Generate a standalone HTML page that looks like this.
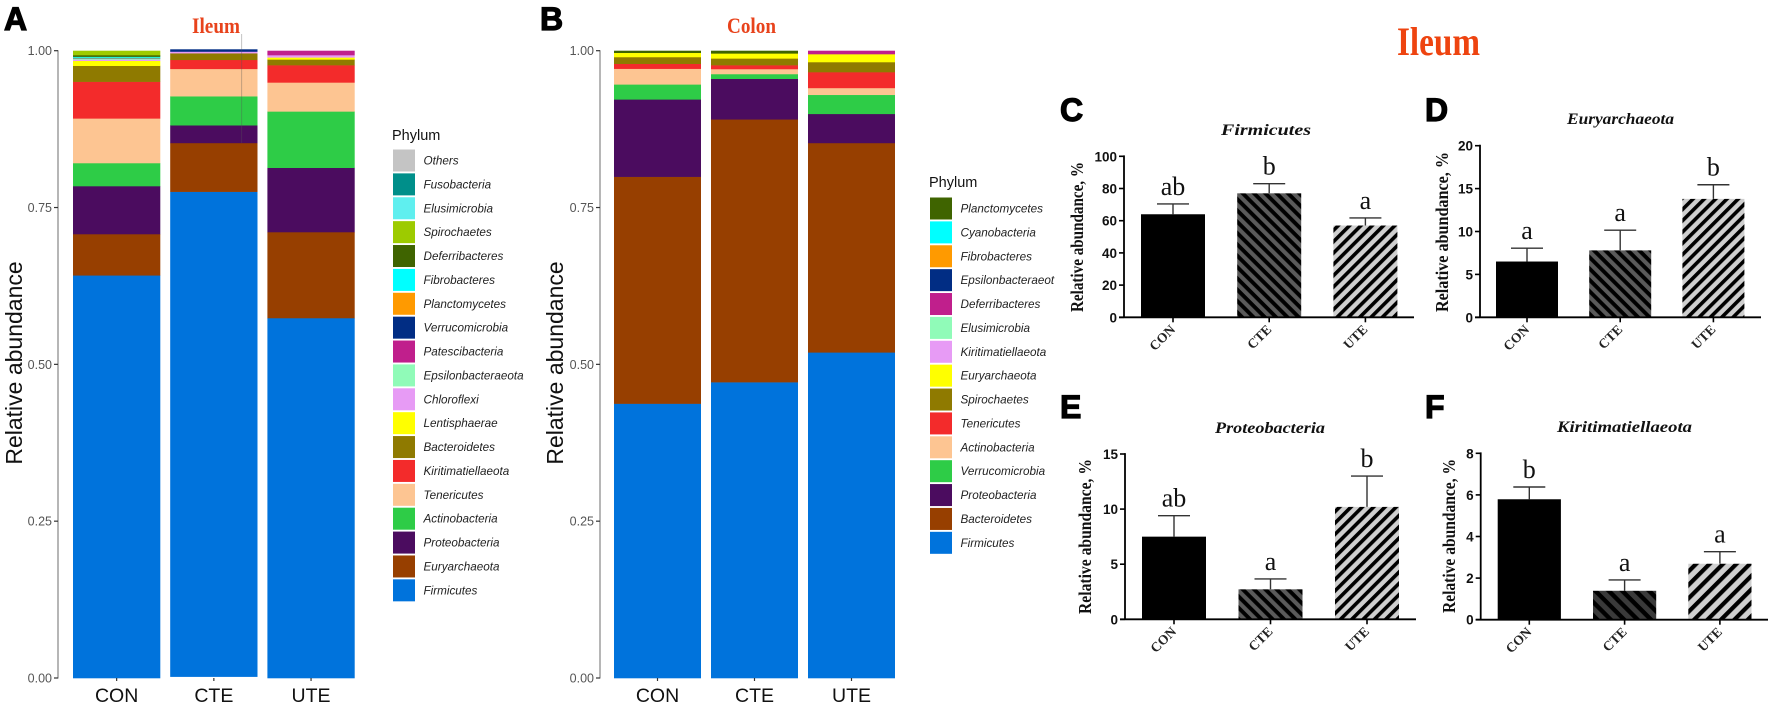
<!DOCTYPE html>
<html lang="en">
<head>
<meta charset="utf-8">
<title>Relative abundance of phyla in ileum and colon</title>
<style>
html,body{margin:0;padding:0;background:#fff;width:1772px;height:709px;overflow:hidden}
svg{display:block}
.sans{font-family:"Liberation Sans",sans-serif}
.serif{font-family:"Liberation Serif",serif}
</style>
</head>
<body>
<svg id="figure" width="1772" height="709" viewBox="0 0 1772 709" xmlns="http://www.w3.org/2000/svg">
  <defs>
    <pattern id="hatch-dark" width="8" height="8" patternUnits="userSpaceOnUse" patternTransform="rotate(45)">
      <rect width="8" height="8" fill="#5a5a5a"/><rect width="8" height="3.9" fill="#000"/>
    </pattern>
    <pattern id="hatch-light" width="8" height="8" patternUnits="userSpaceOnUse" patternTransform="rotate(-45)">
      <rect width="8" height="8" fill="#cfcfcf"/><rect width="8" height="3.6" fill="#000"/>
    </pattern>
    <pattern id="hatch-dark-wide" width="9.5" height="9.5" patternUnits="userSpaceOnUse" patternTransform="rotate(45)">
      <rect width="9.5" height="9.5" fill="#3a3a3a"/><rect width="9.5" height="4.4" fill="#000"/>
    </pattern>
    <pattern id="hatch-light-wide" width="9.5" height="9.5" patternUnits="userSpaceOnUse" patternTransform="rotate(-45)">
      <rect width="9.5" height="9.5" fill="#cfcfcf"/><rect width="9.5" height="4.2" fill="#000"/>
    </pattern>
  </defs>

  <text class="sans" x="4" y="30" font-size="32" font-weight="700" stroke="#000" stroke-width="1.2">A</text>
  <text class="sans" x="540" y="30" font-size="32" font-weight="700" stroke="#000" stroke-width="1.2">B</text>
  <text class="sans" x="1060" y="121" font-size="32" font-weight="700" stroke="#000" stroke-width="1.2">C</text>
  <text class="sans" x="1425" y="121" font-size="32" font-weight="700" stroke="#000" stroke-width="1.2">D</text>
  <text class="sans" x="1060" y="418" font-size="32" font-weight="700" stroke="#000" stroke-width="1.2">E</text>
  <text class="sans" x="1425" y="418" font-size="32" font-weight="700" stroke="#000" stroke-width="1.2">F</text>

  <text class="serif" x="192" y="33" font-size="22" font-weight="700" fill="#e8431c" textLength="48" lengthAdjust="spacingAndGlyphs">Ileum</text>
  <text class="serif" x="727" y="33" font-size="22" font-weight="700" fill="#e8431c" textLength="49" lengthAdjust="spacingAndGlyphs">Colon</text>
  <text class="serif" x="1397" y="55" font-size="40" font-weight="700" fill="#ee4410" textLength="83" lengthAdjust="spacingAndGlyphs">Ileum</text>
</svg>

<script>
const categories = ['CON', 'CTE', 'UTE'];
const stackTicks = ['0.00', '0.25', '0.50', '0.75', '1.00'];
const stackTickValues = [0, 0.25, 0.5, 0.75, 1];

const ileumPhyla = ['Firmicutes', 'Euryarchaeota', 'Proteobacteria', 'Actinobacteria', 'Tenericutes', 'Kiritimatiellaeota', 'Bacteroidetes', 'Lentisphaerae', 'Chloroflexi', 'Epsilonbacteraeota', 'Patescibacteria', 'Verrucomicrobia', 'Planctomycetes', 'Fibrobacteres', 'Deferribacteres', 'Spirochaetes', 'Elusimicrobia', 'Fusobacteria', 'Others'];
const ileumColors = ['#0073dc', '#973f00', '#4b0c5f', '#2ecc47', '#fdc592', '#f32b2b', '#8f7a00', '#ffff00', '#e79bf5', '#90fbb8', '#c01f8c', '#012d84', '#ff9a00', '#00ffff', '#3f6400', '#9dcb00', '#5fefef', '#008f8a', '#c4c4c4'];
const ileumCON = [0.642, 0.0658, 0.0765, 0.0367, 0.0712, 0.0585, 0.0254, 0.008, 0.002, 0.002, 0, 0.0005, 0.0005, 0.0015, 0.0025, 0.0069, 0, 0, 0];
const ileumCTE = [0.7731, 0.0777, 0.0282, 0.0463, 0.0436, 0.0144, 0.0106, 0, 0.0026, 0, 0, 0.0035, 0, 0, 0, 0, 0, 0, 0];
const ileumUTE = [0.5739, 0.1371, 0.1025, 0.0898, 0.0462, 0.0276, 0.0091, 0.0032, 0.0037, 0, 0.0069, 0, 0, 0, 0, 0, 0, 0, 0];

const colonPhyla = ['Firmicutes', 'Bacteroidetes', 'Proteobacteria', 'Verrucomicrobia', 'Actinobacteria', 'Tenericutes', 'Spirochaetes', 'Euryarchaeota', 'Kiritimatiellaeota', 'Elusimicrobia', 'Deferribacteres', 'Epsilonbacteraeot', 'Fibrobacteres', 'Cyanobacteria', 'Planctomycetes'];
const colonColors = ['#0073dc', '#973f00', '#4b0c5f', '#2ecc47', '#fdc592', '#f32b2b', '#8f7a00', '#ffff00', '#e79bf5', '#90fbb8', '#c01f8c', '#012d84', '#ff9a00', '#00ffff', '#3f6400'];
const colonCON = [0.4375, 0.3617, 0.1233, 0.0239, 0.025, 0.0079, 0.0107, 0.0068, 0, 0, 0, 0, 0, 0, 0.0032];
const colonCTE = [0.4717, 0.419, 0.0647, 0.0075, 0.008, 0.0062, 0.0107, 0.008, 0, 0, 0, 0, 0, 0, 0.0042];
const colonUTE = [0.5192, 0.3338, 0.0464, 0.0304, 0.0109, 0.0253, 0.016, 0.0127, 0, 0, 0.0053, 0, 0, 0, 0];

const firmicutesValues = [64, 77, 57];
const firmicutesErrorTops = [70.4, 83, 61.7];
const firmicutesLetters = ['ab', 'b', 'a'];
const firmicutesTicks = [0, 20, 40, 60, 80, 100];

const euryarchaeotaValues = [6.5, 7.8, 13.8];
const euryarchaeotaErrorTops = [8.05, 10.15, 15.45];
const euryarchaeotaLetters = ['a', 'a', 'b'];
const euryarchaeotaTicks = [0, 5, 10, 15, 20];

const proteobacteriaValues = [7.5, 2.72, 10.2];
const proteobacteriaErrorTops = [9.4, 3.66, 13.0];
const proteobacteriaLetters = ['ab', 'a', 'b'];
const proteobacteriaTicks = [0, 5, 10, 15];

const kiritimatiellaeotaValues = [5.79, 1.39, 2.69];
const kiritimatiellaeotaErrorTops = [6.38, 1.91, 3.27];
const kiritimatiellaeotaLetters = ['b', 'a', 'a'];
const kiritimatiellaeotaTicks = [0, 2, 4, 6, 8];

const svg = document.getElementById('figure');
const NS = 'http://www.w3.org/2000/svg';

function make(tag, attrs, parent, text) {
  const node = document.createElementNS(NS, tag);
  for (const key in attrs) node.setAttribute(key, attrs[key]);
  if (text !== undefined) node.textContent = text;
  (parent || svg).appendChild(node);
  return node;
}

function drawStack(cfg) {
  const g = make('g', {});
  
  
  const yScale = v => cfg.y0 - v * (cfg.y0 - cfg.y1);
  const xScale = i => cfg.x0 + i * cfg.pitch;

  cfg.series.forEach((values, i) => {
    const shift = i === cfg.shiftIndex ? cfg.shift : 0;
    let cumulative = 0;
    values.forEach((v, k) => {
      if (v <= 0) return;
      const top = yScale(cumulative + v) + shift;
      const bottom = yScale(cumulative) + shift;
      const seg = make('rect', { x: xScale(i), y: top, width: cfg.barWidth, height: bottom - top + 0.3, fill: cfg.colors[k] }, g);
      
      
      cumulative += v;
    });
    const tick = make('line', { x1: xScale(i) + cfg.barWidth / 2, x2: xScale(i) + cfg.barWidth / 2, y1: cfg.y0, y2: cfg.y0 + 3, stroke: '#333', 'stroke-width': 1.2 }, g);
    
    
    const label = make('text', { x: xScale(i) + cfg.barWidth / 2 + cfg.labelDx, y: cfg.y0 + 24, 'font-size': 19.5, 'text-anchor': 'middle', fill: '#111', class: 'sans' }, g, categories[i]);
    
    
  });

  const axis = make('line', { x1: cfg.axisX, x2: cfg.axisX, y1: cfg.y1 - 0.5, y2: cfg.y0 + 0.5, stroke: '#a3a3a3', 'stroke-width': 1.6 }, g);
  
  

  stackTickValues.forEach((v, i) => {
    const tick = make('line', { x1: cfg.axisX - 4, x2: cfg.axisX, y1: yScale(v), y2: yScale(v), stroke: '#333', 'stroke-width': 1.2 }, g);
    
    
    const label = make('text', { x: cfg.axisX - 6, y: yScale(v) + 4.5, 'font-size': 12.5, 'text-anchor': 'end', fill: '#555', class: 'sans' }, g, stackTicks[i]);
    
    
  });

  const title = make('text', { transform: 'translate(' + cfg.titleX + ',' + cfg.titleY + ') rotate(-90)', 'font-size': 23, 'text-anchor': 'middle', fill: '#111', class: 'sans' }, g, 'Relative abundance');
  
  

  const legend = make('g', {}, g);
  
  
  const legendTitle = make('text', { x: cfg.legendX - 1, y: cfg.legendTitleY, 'font-size': 14.5, fill: '#111', class: 'sans' }, legend, 'Phylum');
  
  
  const n = cfg.phyla.length;
  cfg.phyla.forEach((phylum, k) => {
    const cy = cfg.legendY + (n - 1 - k) * 23.88;
    const swatch = make('rect', { x: cfg.legendX, y: cy - 11, width: 22, height: 22, fill: cfg.colors[k] }, legend);
    
    
    const label = make('text', { x: cfg.legendX + 30.5, y: cy + 4, 'font-size': 11.7, 'font-style': 'italic', fill: '#222', class: 'sans' }, legend, phylum);
    
    
  });
}

function drawBars(cfg) {
  const g = make('g', {});
  
  
  const maxTick = cfg.ticks[cfg.ticks.length - 1];
  const yScale = v => cfg.y0 - v / maxTick * (cfg.y0 - cfg.y1);
  const xScale = i => cfg.x0 + i * cfg.pitch;
  const fills = ['#000', cfg.hatchDark, cfg.hatchLight];

  cfg.values.forEach((v, i) => {
    const cx = xScale(i) + cfg.barWidth / 2;
    const top = yScale(cfg.errors[i]);
    const stem = make('line', { x1: cx, x2: cx, y1: top, y2: yScale(v), stroke: '#333', 'stroke-width': 1.4 }, g);
    
    
    const cap = make('line', { x1: cx - 16, x2: cx + 16, y1: top, y2: top, stroke: '#333', 'stroke-width': 1.4 }, g);
    
    
    const bar = make('rect', { x: xScale(i), y: yScale(v), width: cfg.barWidth, height: cfg.y0 - yScale(v), fill: fills[i] }, g);
    
    
    const letter = make('text', { x: cx, y: top - 9, 'font-size': 26, 'text-anchor': 'middle', fill: '#111', class: 'serif' }, g, cfg.letters[i]);
    
    
    const tick = make('line', { x1: cx, x2: cx, y1: cfg.y0, y2: cfg.y0 + 5, stroke: '#000', 'stroke-width': 1.6 }, g);
    
    
    const tx = cx + 3;
    const ty = cfg.y0 + 13;
    const label = make('text', { transform: 'translate(' + tx + ',' + ty + ') rotate(-45)', 'font-size': 13.5, 'font-weight': 700, 'text-anchor': 'end', fill: '#222', class: 'serif' }, g, categories[i]);
    
    
  });

  const xAxis = make('line', { x1: cfg.axisX - 5, x2: cfg.axisEnd, y1: cfg.y0, y2: cfg.y0, stroke: '#000', 'stroke-width': 1.8 }, g);
  
  
  const yAxis = make('line', { x1: cfg.axisX, x2: cfg.axisX, y1: cfg.y1 - 0.9, y2: cfg.y0, stroke: '#000', 'stroke-width': 1.8 }, g);
  
  

  cfg.ticks.forEach(v => {
    const tick = make('line', { x1: cfg.axisX - 5, x2: cfg.axisX, y1: yScale(v), y2: yScale(v), stroke: '#000', 'stroke-width': 1.6 }, g);
    
    
    const label = make('text', { x: cfg.axisX - 7, y: yScale(v) + 5, 'font-size': 13.5, 'font-weight': 700, 'text-anchor': 'end', fill: '#111', class: 'sans' }, g, String(v));
    
    
  });

  const title = make('text', { x: cfg.titleX, y: cfg.titleY, 'font-size': 16, 'font-weight': 700, 'font-style': 'italic', fill: '#111', class: 'serif', textLength: cfg.titleLength, lengthAdjust: 'spacingAndGlyphs' }, g, cfg.title);
  
  

  const yTitle = make('text', { transform: 'translate(' + cfg.yTitleX + ',' + cfg.yTitleBottom + ') rotate(-90)', 'font-size': 18, 'font-weight': 700, fill: '#111', class: 'serif', textLength: cfg.yTitleLength, lengthAdjust: 'spacingAndGlyphs' }, g, 'Relative abundance, %');
  
  
}

drawStack({
  name: 'ileum-stacked-chart', phyla: ileumPhyla, colors: ileumColors,
  series: [ileumCON, ileumCTE, ileumUTE],
  x0: 73, pitch: 97.2, barWidth: 87.3, y0: 678, y1: 50.7, axisX: 58,
  shiftIndex: 1, shift: -1.4, labelDx: 0,
  titleX: 22, titleY: 363,
  legendX: 393, legendY: 160.5, legendTitleY: 140
});

drawStack({
  name: 'colon-stacked-chart', phyla: colonPhyla, colors: colonColors,
  series: [colonCON, colonCTE, colonUTE],
  x0: 614, pitch: 97, barWidth: 87, y0: 678, y1: 50.7, axisX: 600,
  shiftIndex: -1, shift: 0, labelDx: 0,
  titleX: 563, titleY: 363,
  legendX: 930, legendY: 208.5, legendTitleY: 187
});

const artifact = make('line', { x1: 241.7, x2: 241.7, y1: 34, y2: 143, stroke: '#555', 'stroke-opacity': 0.45, 'stroke-width': 0.8 });



drawBars({
  name: 'firmicutes-chart', title: 'Firmicutes', values: firmicutesValues, errors: firmicutesErrorTops, letters: firmicutesLetters, ticks: firmicutesTicks,
  x0: 1141, pitch: 96.2, barWidth: 64, y0: 317.3, y1: 156.3, axisX: 1124, axisEnd: 1414,
  hatchDark: 'url(#hatch-dark)', hatchLight: 'url(#hatch-light)',
  titleX: 1221, titleY: 135, titleLength: 90,
  yTitleX: 1083, yTitleBottom: 312, yTitleLength: 150
});

drawBars({
  name: 'euryarchaeota-chart', title: 'Euryarchaeota', values: euryarchaeotaValues, errors: euryarchaeotaErrorTops, letters: euryarchaeotaLetters, ticks: euryarchaeotaTicks,
  x0: 1496, pitch: 93.2, barWidth: 62, y0: 317.3, y1: 145.7, axisX: 1480, axisEnd: 1761,
  hatchDark: 'url(#hatch-dark)', hatchLight: 'url(#hatch-light)',
  titleX: 1567, titleY: 124, titleLength: 107,
  yTitleX: 1448, yTitleBottom: 312, yTitleLength: 160
});

drawBars({
  name: 'proteobacteria-chart', title: 'Proteobacteria', values: proteobacteriaValues, errors: proteobacteriaErrorTops, letters: proteobacteriaLetters, ticks: proteobacteriaTicks,
  x0: 1142, pitch: 96.5, barWidth: 64, y0: 619.3, y1: 454, axisX: 1125, axisEnd: 1416,
  hatchDark: 'url(#hatch-dark)', hatchLight: 'url(#hatch-light)',
  titleX: 1215, titleY: 433, titleLength: 110,
  yTitleX: 1091, yTitleBottom: 614, yTitleLength: 155
});

drawBars({
  name: 'kiritimatiellaeota-chart', title: 'Kiritimatiellaeota', values: kiritimatiellaeotaValues, errors: kiritimatiellaeotaErrorTops, letters: kiritimatiellaeotaLetters, ticks: kiritimatiellaeotaTicks,
  x0: 1497.7, pitch: 95.3, barWidth: 63.2, y0: 619.7, y1: 453.3, axisX: 1480.7, axisEnd: 1768,
  hatchDark: 'url(#hatch-dark-wide)', hatchLight: 'url(#hatch-light-wide)',
  titleX: 1557, titleY: 432, titleLength: 135,
  yTitleX: 1455, yTitleBottom: 613, yTitleLength: 154
});
</script>
</body>
</html>
